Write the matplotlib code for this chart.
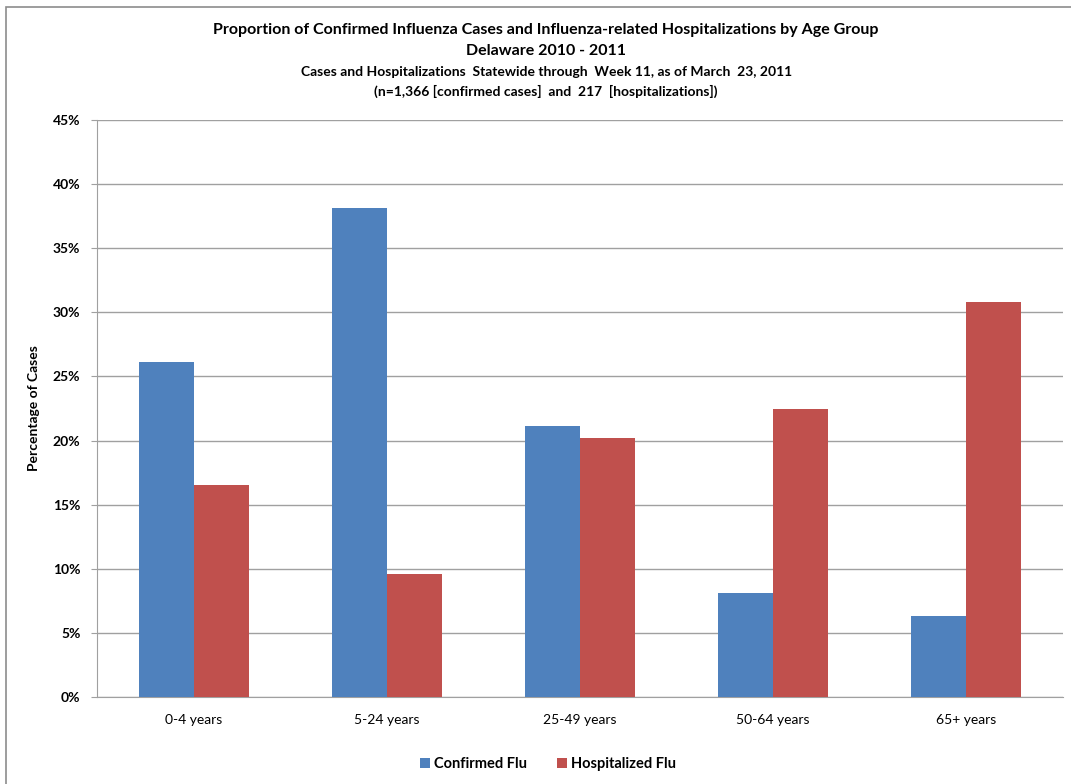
import matplotlib
matplotlib.use("Agg")
import matplotlib.pyplot as plt
from matplotlib.patches import Rectangle
from matplotlib.ticker import FuncFormatter
import numpy as np

# data (percent)
age_groups = ["0-4 years", "5-24 years", "25-49 years", "50-64 years", "65+ years"]
confirmed = [26.1, 38.1, 21.1, 8.1, 6.3]
hospitalized = [16.5, 9.6, 20.2, 22.5, 30.8]

blue = "#4f81bd"
red = "#c0504d"

plt.rcParams['font.family'] = ['Lato', 'DejaVu Sans']

fig = plt.figure(figsize=(10.71, 7.84), dpi=100)
ax = fig.add_axes([97 / 1071, 87 / 784, (1063 - 97) / 1071, (697 - 120) / 784])

x = np.arange(len(age_groups))
w = 0.285
ax.bar(x - w / 2, confirmed, w, color=blue, label="Confirmed Flu", zorder=3)
ax.bar(x + w / 2, hospitalized, w, color=red, label="Hospitalized Flu", zorder=3)

ax.set_xlim(-0.5, len(age_groups) - 0.5)
ax.set_ylim(0, 45)
ax.set_yticks(np.arange(0, 46, 5))
ax.yaxis.set_major_formatter(FuncFormatter(lambda v, p: f"{v:.0f}%"))
ax.set_xticks(x)
ax.set_xticklabels(age_groups, fontsize=10)
for lbl in ax.get_yticklabels():
    lbl.set_fontweight("bold")
    lbl.set_fontsize(10)

ax.grid(axis="y", color="#a0a0a0", linewidth=1, zorder=0)
for s in ["top", "right"]:
    ax.spines[s].set_visible(False)
ax.spines["left"].set_color("#a0a0a0")
ax.spines["bottom"].set_color("#a0a0a0")
ax.tick_params(axis="y", length=4, color="#a0a0a0", pad=8)
ax.tick_params(axis="x", length=0, pad=12)

ax.set_ylabel("Percentage of Cases", fontsize=10, fontweight="bold", labelpad=9)

fig.text(0.51, 1 - 30 / 784, "Proportion of Confirmed Influenza Cases and Influenza-related Hospitalizations by Age Group",
         ha="center", va="center", fontsize=11.5, fontweight="bold")
fig.text(0.51, 1 - 51 / 784, "Delaware 2010 - 2011", ha="center", va="center", fontsize=11.5, fontweight="bold")
fig.text(0.51, 1 - 72 / 784, "Cases and Hospitalizations  Statewide through  Week 11, as of March  23, 2011",
         ha="center", va="center", fontsize=10, fontweight="bold")
fig.text(0.51, 1 - 91 / 784, "(n=1,366 [confirmed cases]  and  217  [hospitalizations])",
         ha="center", va="center", fontsize=10, fontweight="bold")

leg = fig.legend(loc="center", bbox_to_anchor=(548 / 1071, 1 - 764 / 784), ncol=2, frameon=False,
                 prop={"weight": "bold", "size": 10.5}, handlelength=0.7, handleheight=0.7,
                 handletextpad=0.3, columnspacing=2.0)

fig.patches.append(Rectangle((6 / 1071, -0.05), 1.2, 1.05 - 7 / 784, transform=fig.transFigure,
                             fill=False, edgecolor="#8c8c8c", linewidth=1.2))

fig.savefig("out.png", dpi=100)
